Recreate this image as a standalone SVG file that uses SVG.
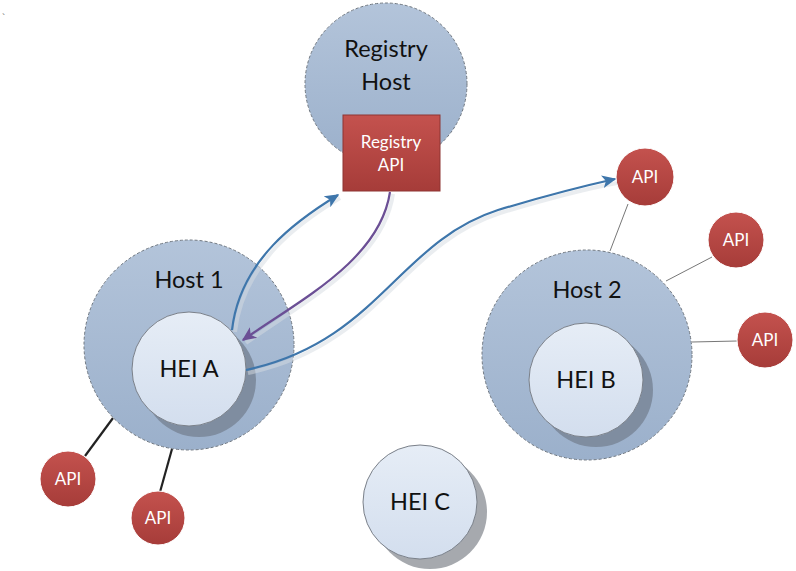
<svg xmlns="http://www.w3.org/2000/svg" width="796" height="571" viewBox="0 0 796 571">
<defs>
<linearGradient id="gHost" x1="0" y1="0" x2="0" y2="1"><stop offset="0" stop-color="#b3c4da"/><stop offset="1" stop-color="#9bb0cb"/></linearGradient>
<linearGradient id="gHei" x1="0" y1="0" x2="0" y2="1"><stop offset="0" stop-color="#e6edf6"/><stop offset="1" stop-color="#d3deee"/></linearGradient>
<linearGradient id="gApi" x1="0" y1="0" x2="0" y2="1"><stop offset="0" stop-color="#c4524e"/><stop offset="1" stop-color="#a63c39"/></linearGradient>
<marker id="aBlue" viewBox="0 0 10 10" refX="9" refY="5" markerWidth="6.5" markerHeight="6.5" orient="auto" markerUnits="strokeWidth"><path d="M0,0.5 L10,5 L0,9.5 L2.5,5 Z" fill="#3e76ab"/></marker>
<marker id="aPurple" viewBox="0 0 10 10" refX="9" refY="5" markerWidth="6.5" markerHeight="6.5" orient="auto" markerUnits="strokeWidth"><path d="M0,0.5 L10,5 L0,9.5 L2.5,5 Z" fill="#6b4f95"/></marker>
</defs>
<style>
.host{fill:url(#gHost);stroke:#6f7780;stroke-width:1;stroke-dasharray:3,2}
.hei{fill:url(#gHei);stroke:#7a8089;stroke-width:1}
.sh{fill:#7f8da0}
.shc{fill:#a6a9ae}
.api{fill:url(#gApi);stroke:#ffffff;stroke-width:1}
.t{font-family:Lato,"Liberation Sans",sans-serif;font-size:23.5px;fill:#111;text-anchor:middle}
.tw{font-family:Lato,"Liberation Sans",sans-serif;font-size:17px;fill:#fff;text-anchor:middle}
.lk{stroke:#222;stroke-width:2.2;fill:none}
.lt{stroke:#777;stroke-width:1;fill:none}
.halo{stroke:#d6dbe2;stroke-width:4;fill:none;opacity:0.5}
</style>
<rect width="796" height="571" fill="#fff"/>
<text x="2" y="22" font-family="Liberation Sans,sans-serif" font-size="10" fill="#666">`</text>

<g id="connectors-links">
<line class="lk" x1="113" y1="418" x2="85" y2="456"/>
<line class="lk" x1="172" y1="449" x2="160" y2="492"/>
<line class="lt" x1="628" y1="204" x2="610" y2="251"/>
<line class="lt" x1="712" y1="257" x2="666" y2="281"/>
<line class="lt" x1="737" y1="341" x2="692" y2="342"/>
</g>

<g id="registry-host">
<circle class="host" cx="386" cy="84" r="81"/>
<text class="t" x="386" y="57">Registry</text>
<text class="t" x="386" y="90">Host</text>
</g>
<g id="registry-api">
<rect x="343" y="115" width="97" height="76" fill="url(#gApi)" stroke="#8e3532" stroke-width="1"/>
<text class="tw" x="391" y="148">Registry</text>
<text class="tw" x="391" y="171">API</text>
</g>

<g id="host1">
<circle class="host" cx="189" cy="345" r="105"/>
<text class="t" x="189" y="288">Host 1</text>
</g>
<g id="hei-a">
<circle class="sh" cx="199" cy="380" r="57"/>
<circle class="hei" cx="189" cy="369" r="57"/>
<text class="t" x="189" y="377">HEI A</text>
</g>

<g id="host2">
<circle class="host" cx="587" cy="355" r="105"/>
<text class="t" x="587" y="298">Host 2</text>
</g>
<g id="hei-b">
<circle class="sh" cx="596" cy="390" r="57"/>
<circle class="hei" cx="586" cy="380" r="57"/>
<text class="t" x="586" y="388">HEI B</text>
</g>

<g id="hei-c">
<circle class="shc" cx="430" cy="512" r="57"/>
<circle class="hei" cx="420" cy="502" r="57"/>
<text class="t" x="420" y="510">HEI C</text>
</g>

<g id="api-1"><circle class="api" cx="645" cy="177" r="29"/><text class="tw" x="645" y="183">API</text></g>
<g id="api-2"><circle class="api" cx="736" cy="240" r="28"/><text class="tw" x="736" y="246">API</text></g>
<g id="api-3"><circle class="api" cx="765" cy="340" r="28"/><text class="tw" x="765" y="346">API</text></g>
<g id="api-4"><circle class="api" cx="68" cy="479" r="28"/><text class="tw" x="68" y="485">API</text></g>
<g id="api-5"><circle class="api" cx="158" cy="518" r="27"/><text class="tw" x="158" y="524">API</text></g>

<g id="connectors">
<path class="halo" d="M235,332 C243,262 300,222 340,198"/>
<path class="halo" d="M393,194 C383,262 303,302 246,343"/>
<path class="halo" d="M248,373 C380,345 400,245 500,213 C560,195 590,188 617,183"/>
<path d="M232,330 C240,260 297,220 338,195" stroke="#3e76ab" stroke-width="2.2" fill="none" marker-end="url(#aBlue)"/>
<path d="M390,192 C380,260 300,300 243,340" stroke="#6b4f95" stroke-width="2.2" fill="none" marker-end="url(#aPurple)"/>
<path d="M246,370 C378,342 398,242 498,210 C558,192 588,185 615,179" stroke="#3e76ab" stroke-width="2.2" fill="none" marker-end="url(#aBlue)"/>
</g>
</svg>
